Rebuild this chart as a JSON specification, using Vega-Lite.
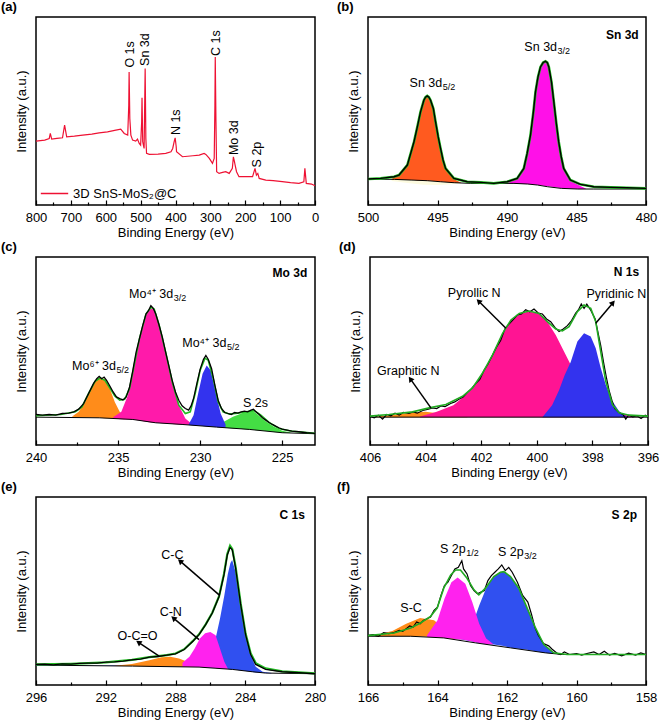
{
"$schema": "https://vega.github.io/schema/vega-lite/v6.json",
"padding": {"left": 0, "top": 0, "right": 0, "bottom": 0},
"background": "white",
"config": {
 "view": {"stroke": "black", "strokeWidth": 1.5},
 "font": "Liberation Sans",
 "axis": {"labelFont": "Liberation Sans", "titleFont": "Liberation Sans", "labelFontSize": 13, "titleFontSize": 13, "titleFontWeight": "normal", "labelColor": "black", "titleColor": "black", "domain": false, "grid": false, "tickColor": "black", "tickWidth": 1.2},
 "axisX": {"labelPadding": 11, "titlePadding": 0, "labelOverlap": false, "labelFlush": false},
 "axisY": {"labels": false, "ticks": false, "titlePadding": 8},
 "title": {"font": "Liberation Sans", "fontSize": 13, "fontWeight": "bold", "anchor": "start", "frame": "group", "offset": 3, "color": "black"},
 "text": {"font": "Liberation Sans", "fontSize": 12.5, "color": "black", "baseline": "alphabetic"}
},
"spacing": 0,
"resolve": {"legend": {"color": "independent"}, "scale": {"color": "independent"}},
"vconcat": [
{"spacing": 16, "resolve": {"legend": {"color": "independent"}, "scale": {"color": "independent"}}, "hconcat": [
{
 "width": 279, "height": 188,
 "title": {"text": "(a)", "dx": -35},
 "data": {"values": [
  {"s":"r","x":800,"y":192},{"s":"r","x":775,"y":195},{"s":"r","x":762,"y":200},{"s":"r","x":759,"y":215},{"s":"r","x":755,"y":198},{"s":"r","x":740,"y":200},{"s":"r","x":724,"y":202},{"s":"r","x":718,"y":240},{"s":"r","x":712,"y":205},{"s":"r","x":690,"y":207},{"s":"r","x":666,"y":210},{"s":"r","x":640,"y":213},{"s":"r","x":619,"y":217},{"s":"r","x":595,"y":220},{"s":"r","x":571,"y":225},{"s":"r","x":557,"y":228},{"s":"r","x":547,"y":215},{"s":"r","x":537,"y":210},{"s":"r","x":534,"y":300},{"s":"r","x":533,"y":400},{"s":"r","x":531,"y":260},{"s":"r","x":528,"y":210},{"s":"r","x":523,"y":195},{"s":"r","x":514,"y":192},{"s":"r","x":509,"y":198},{"s":"r","x":504,"y":185},{"s":"r","x":500,"y":180},{"s":"r","x":497,"y":250},{"s":"r","x":496,"y":322},{"s":"r","x":494,"y":190},{"s":"r","x":492,"y":180},{"s":"r","x":490,"y":170},{"s":"r","x":488,"y":330},{"s":"r","x":487,"y":410},{"s":"r","x":485,"y":200},{"s":"r","x":483,"y":155},{"s":"r","x":475,"y":152},{"s":"r","x":450,"y":153},{"s":"r","x":428,"y":155},{"s":"r","x":413,"y":160},{"s":"r","x":408,"y":170},{"s":"r","x":404,"y":190},{"s":"r","x":401,"y":202},{"s":"r","x":398,"y":175},{"s":"r","x":397,"y":160},{"s":"r","x":380,"y":145},{"s":"r","x":350,"y":148},{"s":"r","x":332,"y":150},{"s":"r","x":318,"y":155},{"s":"r","x":313,"y":152},{"s":"r","x":303,"y":140},{"s":"r","x":294,"y":125},{"s":"r","x":289,"y":140},{"s":"r","x":287,"y":300},{"s":"r","x":286,"y":445},{"s":"r","x":284,"y":250},{"s":"r","x":282,"y":100},{"s":"r","x":275,"y":95},{"s":"r","x":265,"y":98},{"s":"r","x":256,"y":100},{"s":"r","x":246,"y":95},{"s":"r","x":237,"y":110},{"s":"r","x":234,"y":145},{"s":"r","x":231,"y":130},{"s":"r","x":229,"y":120},{"s":"r","x":225,"y":100},{"s":"r","x":218,"y":85},{"s":"r","x":200,"y":85},{"s":"r","x":179,"y":85},{"s":"r","x":172,"y":110},{"s":"r","x":168,"y":90},{"s":"r","x":164,"y":95},{"s":"r","x":160,"y":80},{"s":"r","x":141,"y":75},{"s":"r","x":120,"y":73},{"s":"r","x":94,"y":70},{"s":"r","x":70,"y":67},{"s":"r","x":46,"y":65},{"s":"r","x":32,"y":70},{"s":"r","x":29,"y":110},{"s":"r","x":25,"y":65},{"s":"r","x":10,"y":63},{"s":"r","x":0,"y":58},
  {"s":"rt","x":531,"y":413,"t":"O 1s"},{"s":"rt","x":488,"y":418,"t":"Sn 3d"},{"s":"rt","x":399,"y":210,"t":"N 1s"},{"s":"rt","x":283,"y":448,"t":"C 1s"},{"s":"rt","x":232,"y":150,"t":"Mo 3d"},{"s":"rt","x":167,"y":113,"t":"S 2p"}
 ]},
 "encoding": {
  "x": {"field": "x", "type": "quantitative", "scale": {"domain": [800, 0], "nice": false, "zero": false}, "axis": {"title": "Binding Energy (eV)", "values": [0,50,100,150,200,250,300,350,400,450,500,550,600,650,700,750,800], "labelExpr": "datum.value % 100 == 0 ? datum.label : ''", "tickSize": {"condition": {"test": "datum.value % 100 == 0", "value": -5}, "value": -3}}},
  "y": {"field": "y", "type": "quantitative", "scale": {"domain": [0, 565], "nice": false, "zero": false}, "axis": {"title": "Intensity (a.u.)"}}
 },
 "layer": [
  {"transform": [{"filter": "datum.s == 'r'"}], "mark": {"type": "line", "strokeWidth": 1.2}, "encoding": {"color": {"datum": "3D SnS-MoS₂@C", "scale": {"range": ["#ee1133"]}, "legend": {"orient": "bottom-left", "title": null, "symbolType": "stroke", "symbolStrokeWidth": 1.5, "symbolSize": 750, "labelFontSize": 13, "labelFont": "Liberation Sans", "labelColor": "black", "offset": 4, "padding": 0}}}},
  {"transform": [{"filter": "datum.s == 'rt'"}], "mark": {"type": "text", "angle": 270, "align": "left", "baseline": "middle"}, "encoding": {"text": {"field": "t"}}}
 ]
},
{
 "width": 278, "height": 188,
 "title": {"text": "(b)", "dx": -31},
 "data": {"values": [
  {"s":"r","x":500,"y":78},{"s":"r","x":499.09,"y":80},{"s":"r","x":498.13,"y":85},{"s":"r","x":497.77,"y":90},{"s":"r","x":497.17,"y":120},{"s":"r","x":496.69,"y":190},{"s":"r","x":496.45,"y":235},{"s":"r","x":496.22,"y":280},{"s":"r","x":495.98,"y":315},{"s":"r","x":495.86,"y":324},{"s":"r","x":495.74,"y":328},{"s":"r","x":495.62,"y":324},{"s":"r","x":495.5,"y":315},{"s":"r","x":495.3,"y":290},{"s":"r","x":495.14,"y":250},{"s":"r","x":494.95,"y":205},{"s":"r","x":494.78,"y":170},{"s":"r","x":494.6,"y":135},{"s":"r","x":494.42,"y":110},{"s":"r","x":493.82,"y":80},{"s":"r","x":492.86,"y":70},{"s":"r","x":491.9,"y":68},{"s":"r","x":490.95,"y":65},{"s":"r","x":489.99,"y":70},{"s":"r","x":489.27,"y":80},{"s":"r","x":488.79,"y":110},{"s":"r","x":488.55,"y":155},{"s":"r","x":488.31,"y":210},{"s":"r","x":488.1,"y":280},{"s":"r","x":487.95,"y":340},{"s":"r","x":487.77,"y":385},{"s":"r","x":487.59,"y":415},{"s":"r","x":487.4,"y":428},{"s":"r","x":487.23,"y":432},{"s":"r","x":487.1,"y":428},{"s":"r","x":486.99,"y":415},{"s":"r","x":486.8,"y":370},{"s":"r","x":486.63,"y":310},{"s":"r","x":486.45,"y":245},{"s":"r","x":486.28,"y":190},{"s":"r","x":486.1,"y":145},{"s":"r","x":485.92,"y":110},{"s":"r","x":485.44,"y":75},{"s":"r","x":484.72,"y":62},{"s":"r","x":483.76,"y":55},{"s":"r","x":482.56,"y":53},{"s":"r","x":481.37,"y":52},{"s":"r","x":480,"y":50},
  {"s":"b","x":500,"y":78},{"s":"b","x":498.1,"y":77},{"s":"b","x":496.9,"y":75},{"s":"b","x":495.7,"y":73},{"s":"b","x":494.8,"y":70},{"s":"b","x":493.8,"y":67},{"s":"b","x":492.6,"y":65},{"s":"b","x":490.9,"y":65},{"s":"b","x":489.5,"y":65},{"s":"b","x":488.5,"y":63},{"s":"b","x":487.8,"y":60},{"s":"b","x":487.1,"y":55},{"s":"b","x":486.1,"y":50},{"s":"b","x":484.9,"y":48},{"s":"b","x":483.8,"y":48},{"s":"b","x":480,"y":48},
  {"s":"yl","x":498.3,"y":77,"y2":72},{"s":"yl","x":497,"y":75,"y2":65},{"s":"yl","x":496,"y":74,"y2":61},{"s":"yl","x":495,"y":72,"y2":60},{"s":"yl","x":494,"y":68,"y2":62},{"s":"yl","x":493.3,"y":66,"y2":65},
  {"s":"p1","x":498.3,"y":79,"y2":77},{"s":"p1","x":497.77,"y":89,"y2":76},{"s":"p1","x":497.17,"y":119,"y2":75},{"s":"p1","x":496.69,"y":189,"y2":75},{"s":"p1","x":496.45,"y":234,"y2":74},{"s":"p1","x":496.22,"y":279,"y2":74},{"s":"p1","x":495.98,"y":314,"y2":74},{"s":"p1","x":495.86,"y":323,"y2":73},{"s":"p1","x":495.74,"y":327,"y2":73},{"s":"p1","x":495.62,"y":323,"y2":73},{"s":"p1","x":495.5,"y":314,"y2":73},{"s":"p1","x":495.3,"y":289,"y2":72},{"s":"p1","x":495.14,"y":249,"y2":72},{"s":"p1","x":494.95,"y":204,"y2":71},{"s":"p1","x":494.78,"y":169,"y2":70},{"s":"p1","x":494.6,"y":134,"y2":70},{"s":"p1","x":494.42,"y":109,"y2":69},{"s":"p1","x":493.82,"y":78,"y2":67},{"s":"p1","x":493.3,"y":67,"y2":66},
  {"s":"p2","x":490.5,"y":66,"y2":65},{"s":"p2","x":489.99,"y":69,"y2":65},{"s":"p2","x":489.27,"y":79,"y2":64},{"s":"p2","x":488.79,"y":109,"y2":63},{"s":"p2","x":488.55,"y":154,"y2":63},{"s":"p2","x":488.31,"y":209,"y2":62},{"s":"p2","x":488.1,"y":279,"y2":61},{"s":"p2","x":487.95,"y":339,"y2":61},{"s":"p2","x":487.77,"y":384,"y2":60},{"s":"p2","x":487.59,"y":414,"y2":59},{"s":"p2","x":487.4,"y":427,"y2":58},{"s":"p2","x":487.23,"y":431,"y2":57},{"s":"p2","x":487.1,"y":427,"y2":56},{"s":"p2","x":486.99,"y":414,"y2":56},{"s":"p2","x":486.8,"y":369,"y2":55},{"s":"p2","x":486.63,"y":309,"y2":54},{"s":"p2","x":486.45,"y":244,"y2":53},{"s":"p2","x":486.28,"y":189,"y2":52},{"s":"p2","x":486.1,"y":144,"y2":51},{"s":"p2","x":485.92,"y":109,"y2":51},{"s":"p2","x":485.44,"y":74,"y2":49},{"s":"p2","x":484.72,"y":57,"y2":48},{"s":"p2","x":484.3,"y":49,"y2":48},
  {"s":"tr","x":494.66,"y":355,"t":"Sn 3d"},{"s":"sub","x":494.66,"y":355,"t":"5/2"},{"s":"tr","x":486.4,"y":462,"t":"Sn 3d"},{"s":"sub","x":486.4,"y":462,"t":"3/2"},{"s":"hd","x":480.53,"y":498,"t":"Sn 3d"}
 ]},
 "encoding": {
  "x": {"field": "x", "type": "quantitative", "scale": {"domain": [500, 480], "nice": false, "zero": false}, "axis": {"title": "Binding Energy (eV)", "values": [480,482.5,485,487.5,490,492.5,495,497.5,500], "labelExpr": "datum.value % 5 == 0 ? datum.label : ''", "tickSize": {"condition": {"test": "datum.value % 5 == 0", "value": -5}, "value": -3}}},
  "y": {"field": "y", "type": "quantitative", "scale": {"domain": [0, 565], "nice": false, "zero": false}, "axis": {"title": "Intensity (a.u.)"}}
 },
 "layer": [
  {"transform": [{"filter": "datum.s == 'yl'"}], "mark": {"type": "area", "color": "#fdfbe0"}, "encoding": {"y2": {"field": "y2"}}},
  {"transform": [{"filter": "datum.s == 'p1'"}], "mark": {"type": "area", "color": "#ff5a1f"}, "encoding": {"y2": {"field": "y2"}}},
  {"transform": [{"filter": "datum.s == 'p2'"}], "mark": {"type": "area", "color": "#ff10e8"}, "encoding": {"y2": {"field": "y2"}}},
  {"transform": [{"filter": "datum.s == 'b'"}], "mark": {"type": "line", "color": "black", "strokeWidth": 1}},
  {"transform": [{"filter": "datum.s == 'r'"}], "mark": {"type": "line", "color": "#22bb22", "strokeWidth": 2.6}},
  {"transform": [{"filter": "datum.s == 'r'"}], "mark": {"type": "line", "color": "black", "strokeWidth": 1.4}},
  {"transform": [{"filter": "datum.s == 'tr'"}], "mark": {"type": "text", "align": "right"}, "encoding": {"text": {"field": "t"}}},
  {"transform": [{"filter": "datum.s == 'sub'"}], "mark": {"type": "text", "align": "left", "fontSize": 9, "dx": 0.5, "dy": 3}, "encoding": {"text": {"field": "t"}}},
  {"transform": [{"filter": "datum.s == 'hd'"}], "mark": {"type": "text", "align": "right", "fontWeight": "bold", "fontSize": 12}, "encoding": {"text": {"field": "t"}}}
 ]
}
]},
{"spacing": 19, "hconcat": [
{
 "width": 279, "height": 188,
 "title": {"text": "(c)", "dx": -35},
 "data": {"values": [
  {"s":"r","x":240,"y":92},{"s":"r","x":239.6,"y":90},{"s":"r","x":239.2,"y":92},{"s":"r","x":238.8,"y":90},{"s":"r","x":238.4,"y":95},{"s":"r","x":238,"y":96},{"s":"r","x":237.7,"y":100},{"s":"r","x":237.4,"y":108},{"s":"r","x":237.1,"y":125},{"s":"r","x":236.8,"y":155},{"s":"r","x":236.5,"y":185},{"s":"r","x":236.3,"y":200},{"s":"r","x":236.15,"y":207},{"s":"r","x":236,"y":200},{"s":"r","x":235.85,"y":205},{"s":"r","x":235.7,"y":195},{"s":"r","x":235.5,"y":178},{"s":"r","x":235.3,"y":160},{"s":"r","x":235.1,"y":145},{"s":"r","x":234.9,"y":140},{"s":"r","x":234.7,"y":136},{"s":"r","x":234.5,"y":145},{"s":"r","x":234.3,"y":175},{"s":"r","x":234.1,"y":225},{"s":"r","x":233.9,"y":280},{"s":"r","x":233.7,"y":320},{"s":"r","x":233.5,"y":360},{"s":"r","x":233.3,"y":395},{"s":"r","x":233.15,"y":405},{"s":"r","x":233,"y":420},{"s":"r","x":232.85,"y":412},{"s":"r","x":232.7,"y":395},{"s":"r","x":232.5,"y":362},{"s":"r","x":232.3,"y":325},{"s":"r","x":232.1,"y":280},{"s":"r","x":231.9,"y":238},{"s":"r","x":231.7,"y":195},{"s":"r","x":231.5,"y":160},{"s":"r","x":231.3,"y":135},{"s":"r","x":231.1,"y":118},{"s":"r","x":230.9,"y":110},{"s":"r","x":230.7,"y":105},{"s":"r","x":230.55,"y":118},{"s":"r","x":230.4,"y":140},{"s":"r","x":230.2,"y":185},{"s":"r","x":230,"y":228},{"s":"r","x":229.8,"y":258},{"s":"r","x":229.65,"y":270},{"s":"r","x":229.5,"y":258},{"s":"r","x":229.3,"y":230},{"s":"r","x":229.1,"y":180},{"s":"r","x":228.9,"y":135},{"s":"r","x":228.7,"y":110},{"s":"r","x":228.5,"y":98},{"s":"r","x":228.3,"y":95},{"s":"r","x":228.1,"y":92},{"s":"r","x":227.9,"y":98},{"s":"r","x":227.7,"y":96},{"s":"r","x":227.5,"y":100},{"s":"r","x":227.3,"y":102},{"s":"r","x":227.1,"y":100},{"s":"r","x":226.9,"y":105},{"s":"r","x":226.75,"y":108},{"s":"r","x":226.6,"y":100},{"s":"r","x":226.4,"y":92},{"s":"r","x":226.2,"y":82},{"s":"r","x":226,"y":75},{"s":"r","x":225.8,"y":68},{"s":"r","x":225.6,"y":62},{"s":"r","x":225.4,"y":57},{"s":"r","x":225.2,"y":52},{"s":"r","x":225,"y":48},{"s":"r","x":224.7,"y":45},{"s":"r","x":224.4,"y":42},{"s":"r","x":224,"y":40},{"s":"r","x":223.5,"y":37},{"s":"r","x":223,"y":35},
  {"s":"f","x":240,"y":88},{"s":"f","x":238.5,"y":92},{"s":"f","x":237.6,"y":100},{"s":"f","x":237.2,"y":115},{"s":"f","x":236.8,"y":155},{"s":"f","x":236.4,"y":192},{"s":"f","x":236.1,"y":202},{"s":"f","x":235.8,"y":195},{"s":"f","x":235.5,"y":172},{"s":"f","x":235.2,"y":148},{"s":"f","x":234.9,"y":135},{"s":"f","x":234.6,"y":138},{"s":"f","x":234.3,"y":170},{"s":"f","x":234,"y":245},{"s":"f","x":233.7,"y":320},{"s":"f","x":233.3,"y":395},{"s":"f","x":233,"y":415},{"s":"f","x":232.8,"y":410},{"s":"f","x":232.5,"y":362},{"s":"f","x":232.1,"y":280},{"s":"f","x":231.7,"y":190},{"s":"f","x":231.3,"y":120},{"s":"f","x":230.9,"y":95},{"s":"f","x":230.6,"y":100},{"s":"f","x":230.3,"y":155},{"s":"f","x":230,"y":225},{"s":"f","x":229.7,"y":262},{"s":"f","x":229.5,"y":255},{"s":"f","x":229.2,"y":200},{"s":"f","x":228.9,"y":130},{"s":"f","x":228.6,"y":100},{"s":"f","x":228.2,"y":93},{"s":"f","x":227.6,"y":97},{"s":"f","x":227,"y":102},{"s":"f","x":226.7,"y":104},{"s":"f","x":226.3,"y":90},{"s":"f","x":225.8,"y":68},{"s":"f","x":225.2,"y":50},{"s":"f","x":224.5,"y":42},{"s":"f","x":223,"y":35},
  {"s":"b","x":240,"y":84},{"s":"b","x":236.15,"y":82},{"s":"b","x":234.1,"y":77},{"s":"b","x":232.7,"y":67},{"s":"b","x":231.1,"y":62},{"s":"b","x":229,"y":54},{"s":"b","x":227,"y":47},{"s":"b","x":225,"y":37},{"s":"b","x":223,"y":34},
  {"s":"p1","x":237.8,"y":86,"y2":85},{"s":"p1","x":237.4,"y":100,"y2":84},{"s":"p1","x":237,"y":130,"y2":83},{"s":"p1","x":236.6,"y":175,"y2":83},{"s":"p1","x":236.3,"y":200,"y2":82},{"s":"p1","x":236.1,"y":204,"y2":82},{"s":"p1","x":235.8,"y":198,"y2":81},{"s":"p1","x":235.5,"y":170,"y2":81},{"s":"p1","x":235.2,"y":130,"y2":80},{"s":"p1","x":234.9,"y":100,"y2":79},{"s":"p1","x":234.6,"y":82,"y2":78},
  {"s":"p2","x":235.3,"y":84,"y2":80},{"s":"p2","x":234.8,"y":100,"y2":78},{"s":"p2","x":234.4,"y":150,"y2":77},{"s":"p2","x":234,"y":245,"y2":76},{"s":"p2","x":233.7,"y":318,"y2":74},{"s":"p2","x":233.3,"y":392,"y2":70},{"s":"p2","x":233,"y":412,"y2":68},{"s":"p2","x":232.8,"y":408,"y2":67},{"s":"p2","x":232.5,"y":360,"y2":66},{"s":"p2","x":232.1,"y":280,"y2":65},{"s":"p2","x":231.7,"y":190,"y2":63},{"s":"p2","x":231.3,"y":120,"y2":62},{"s":"p2","x":230.9,"y":80,"y2":61},{"s":"p2","x":230.5,"y":63,"y2":60},
  {"s":"p3","x":230.7,"y":62,"y2":60},{"s":"p3","x":230.4,"y":90,"y2":59},{"s":"p3","x":230.1,"y":160,"y2":58},{"s":"p3","x":229.85,"y":215,"y2":57},{"s":"p3","x":229.6,"y":240,"y2":56},{"s":"p3","x":229.35,"y":225,"y2":55},{"s":"p3","x":229.05,"y":160,"y2":54},{"s":"p3","x":228.75,"y":95,"y2":53},{"s":"p3","x":228.45,"y":62,"y2":52},
  {"s":"p4","x":229.5,"y":57,"y2":55},{"s":"p4","x":229,"y":62,"y2":54},{"s":"p4","x":228.5,"y":72,"y2":52},{"s":"p4","x":228,"y":85,"y2":50},{"s":"p4","x":227.6,"y":93,"y2":49},{"s":"p4","x":227.2,"y":100,"y2":47},{"s":"p4","x":226.8,"y":104,"y2":46},{"s":"p4","x":226.4,"y":88,"y2":44},{"s":"p4","x":226,"y":72,"y2":42},{"s":"p4","x":225.5,"y":55,"y2":39},{"s":"p4","x":225,"y":43,"y2":37},{"s":"p4","x":224.5,"y":38,"y2":36},
  {"s":"tr","x":235.13,"y":227,"t":"Mo⁶⁺ 3d"},{"s":"sub","x":235.13,"y":227,"t":"5/2"},{"s":"tr","x":231.64,"y":442,"t":"Mo⁴⁺ 3d"},{"s":"sub","x":231.64,"y":442,"t":"3/2"},{"s":"tr","x":228.4,"y":297,"t":"Mo⁴⁺ 3d"},{"s":"sub","x":228.4,"y":297,"t":"5/2"},{"s":"tc","x":226.63,"y":115,"t":"S 2s"},{"s":"hd","x":223.47,"y":507,"t":"Mo 3d"}
 ]},
 "encoding": {
  "x": {"field": "x", "type": "quantitative", "scale": {"domain": [240, 223], "nice": false, "zero": false}, "axis": {"title": "Binding Energy (eV)", "values": [225,227.5,230,232.5,235,237.5,240], "labelExpr": "datum.value % 5 == 0 ? datum.label : ''", "tickSize": {"condition": {"test": "datum.value % 5 == 0", "value": -5}, "value": -3}}},
  "y": {"field": "y", "type": "quantitative", "scale": {"domain": [0, 567], "nice": false, "zero": false}, "axis": {"title": "Intensity (a.u.)"}}
 },
 "layer": [
  {"transform": [{"filter": "datum.s == 'p4'"}], "mark": {"type": "area", "color": "#44dd44"}, "encoding": {"y2": {"field": "y2"}}},
  {"transform": [{"filter": "datum.s == 'p1'"}], "mark": {"type": "area", "color": "#ff8c1a"}, "encoding": {"y2": {"field": "y2"}}},
  {"transform": [{"filter": "datum.s == 'p2'"}], "mark": {"type": "area", "color": "#ff1aaa"}, "encoding": {"y2": {"field": "y2"}}},
  {"transform": [{"filter": "datum.s == 'p3'"}], "mark": {"type": "area", "color": "#3333ee"}, "encoding": {"y2": {"field": "y2"}}},
  {"transform": [{"filter": "datum.s == 'b'"}], "mark": {"type": "line", "color": "black", "strokeWidth": 1}},
  {"transform": [{"filter": "datum.s == 'f'"}], "mark": {"type": "line", "color": "#22bb22", "strokeWidth": 1.6}},
  {"transform": [{"filter": "datum.s == 'r'"}], "mark": {"type": "line", "color": "black", "strokeWidth": 1.3}},
  {"transform": [{"filter": "datum.s == 'tr'"}], "mark": {"type": "text", "align": "right"}, "encoding": {"text": {"field": "t"}}},
  {"transform": [{"filter": "datum.s == 'tc'"}], "mark": {"type": "text", "align": "center"}, "encoding": {"text": {"field": "t"}}},
  {"transform": [{"filter": "datum.s == 'sub'"}], "mark": {"type": "text", "align": "left", "fontSize": 9, "dx": 0.5, "dy": 3}, "encoding": {"text": {"field": "t"}}},
  {"transform": [{"filter": "datum.s == 'hd'"}], "mark": {"type": "text", "align": "right", "fontWeight": "bold", "fontSize": 12}, "encoding": {"text": {"field": "t"}}}
 ]
},
{
 "width": 278, "height": 188,
 "title": {"text": "(d)", "dx": -31},
 "data": {"values": [
  {"s":"r","x":406,"y":87},{"s":"r","x":405.85,"y":82},{"s":"r","x":405.7,"y":90},{"s":"r","x":405.55,"y":78},{"s":"r","x":405.4,"y":92},{"s":"r","x":405.25,"y":88},{"s":"r","x":405.1,"y":96},{"s":"r","x":404.95,"y":90},{"s":"r","x":404.8,"y":98},{"s":"r","x":404.6,"y":95},{"s":"r","x":404.45,"y":100},{"s":"r","x":404.3,"y":96},{"s":"r","x":404.1,"y":104},{"s":"r","x":403.9,"y":108},{"s":"r","x":403.75,"y":112},{"s":"r","x":403.6,"y":110},{"s":"r","x":403.45,"y":118},{"s":"r","x":403.3,"y":116},{"s":"r","x":403.1,"y":125},{"s":"r","x":402.95,"y":130},{"s":"r","x":402.8,"y":138},{"s":"r","x":402.65,"y":145},{"s":"r","x":402.5,"y":158},{"s":"r","x":402.35,"y":170},{"s":"r","x":402.2,"y":185},{"s":"r","x":402.05,"y":198},{"s":"r","x":401.9,"y":225},{"s":"r","x":401.75,"y":245},{"s":"r","x":401.6,"y":270},{"s":"r","x":401.45,"y":295},{"s":"r","x":401.3,"y":315},{"s":"r","x":401.15,"y":350},{"s":"r","x":401,"y":365},{"s":"r","x":400.85,"y":378},{"s":"r","x":400.7,"y":392},{"s":"r","x":400.55,"y":395},{"s":"r","x":400.4,"y":408},{"s":"r","x":400.25,"y":402},{"s":"r","x":400.1,"y":410},{"s":"r","x":399.95,"y":398},{"s":"r","x":399.8,"y":395},{"s":"r","x":399.65,"y":380},{"s":"r","x":399.5,"y":372},{"s":"r","x":399.35,"y":355},{"s":"r","x":399.2,"y":342},{"s":"r","x":399.05,"y":350},{"s":"r","x":398.9,"y":360},{"s":"r","x":398.75,"y":375},{"s":"r","x":398.6,"y":398},{"s":"r","x":398.5,"y":408},{"s":"r","x":398.4,"y":425},{"s":"r","x":398.3,"y":412},{"s":"r","x":398.2,"y":425},{"s":"r","x":398.05,"y":405},{"s":"r","x":397.9,"y":380},{"s":"r","x":397.8,"y":340},{"s":"r","x":397.7,"y":300},{"s":"r","x":397.6,"y":250},{"s":"r","x":397.5,"y":205},{"s":"r","x":397.4,"y":165},{"s":"r","x":397.3,"y":135},{"s":"r","x":397.2,"y":110},{"s":"r","x":397.05,"y":98},{"s":"r","x":396.9,"y":92},{"s":"r","x":396.8,"y":78},{"s":"r","x":396.7,"y":90},{"s":"r","x":396.55,"y":85},{"s":"r","x":396.4,"y":88},{"s":"r","x":396.25,"y":80},{"s":"r","x":396.1,"y":90},{"s":"r","x":396,"y":86},
  {"s":"f","x":406,"y":87},{"s":"f","x":405.31,"y":92},{"s":"f","x":404.47,"y":100},{"s":"f","x":403.87,"y":112},{"s":"f","x":403.27,"y":122},{"s":"f","x":402.67,"y":147},{"s":"f","x":402.31,"y":172},{"s":"f","x":401.95,"y":217},{"s":"f","x":401.59,"y":272},{"s":"f","x":401.23,"y":337},{"s":"f","x":400.93,"y":377},{"s":"f","x":400.63,"y":397},{"s":"f","x":400.28,"y":404},{"s":"f","x":399.92,"y":397},{"s":"f","x":399.62,"y":372},{"s":"f","x":399.32,"y":350},{"s":"f","x":399.08,"y":344},{"s":"f","x":398.84,"y":357},{"s":"f","x":398.54,"y":402},{"s":"f","x":398.3,"y":422},{"s":"f","x":398.06,"y":412},{"s":"f","x":397.88,"y":372},{"s":"f","x":397.7,"y":282},{"s":"f","x":397.52,"y":192},{"s":"f","x":397.28,"y":122},{"s":"f","x":397.04,"y":97},{"s":"f","x":396.68,"y":90},{"s":"f","x":396,"y":87},
  {"s":"b","x":406,"y":84},{"s":"b","x":396,"y":84},
  {"s":"p1","x":405.8,"y":86,"y2":84},{"s":"p1","x":405.3,"y":89,"y2":84},{"s":"p1","x":405,"y":92,"y2":84},{"s":"p1","x":404.5,"y":97,"y2":84},{"s":"p1","x":404,"y":100,"y2":84},{"s":"p1","x":403.5,"y":95,"y2":84},{"s":"p1","x":403,"y":88,"y2":84},{"s":"p1","x":402.5,"y":85,"y2":84},
  {"s":"p2","x":404.2,"y":86,"y2":84},{"s":"p2","x":403.6,"y":100,"y2":84},{"s":"p2","x":403,"y":120,"y2":84},{"s":"p2","x":402.6,"y":148,"y2":84},{"s":"p2","x":402.3,"y":172,"y2":84},{"s":"p2","x":401.95,"y":215,"y2":84},{"s":"p2","x":401.6,"y":270,"y2":84},{"s":"p2","x":401.23,"y":335,"y2":84},{"s":"p2","x":400.93,"y":375,"y2":84},{"s":"p2","x":400.63,"y":396,"y2":84},{"s":"p2","x":400.28,"y":403,"y2":84},{"s":"p2","x":399.92,"y":396,"y2":84},{"s":"p2","x":399.62,"y":372,"y2":84},{"s":"p2","x":399.32,"y":332,"y2":84},{"s":"p2","x":399.08,"y":292,"y2":84},{"s":"p2","x":398.78,"y":242,"y2":84},{"s":"p2","x":398.4,"y":195,"y2":84},{"s":"p2","x":397.88,"y":142,"y2":84},{"s":"p2","x":397.28,"y":102,"y2":84},{"s":"p2","x":396.7,"y":88,"y2":84},{"s":"p2","x":396.2,"y":84,"y2":84},
  {"s":"p3","x":399.8,"y":84,"y2":84},{"s":"p3","x":399.45,"y":120,"y2":84},{"s":"p3","x":399.2,"y":165,"y2":84},{"s":"p3","x":399,"y":210,"y2":84},{"s":"p3","x":398.78,"y":250,"y2":84},{"s":"p3","x":398.54,"y":312,"y2":84},{"s":"p3","x":398.3,"y":337,"y2":84},{"s":"p3","x":398.06,"y":327,"y2":84},{"s":"p3","x":397.88,"y":292,"y2":84},{"s":"p3","x":397.7,"y":232,"y2":84},{"s":"p3","x":397.52,"y":182,"y2":84},{"s":"p3","x":397.28,"y":132,"y2":84},{"s":"p3","x":397.04,"y":102,"y2":84},{"s":"p3","x":396.8,"y":87,"y2":84},{"s":"p3","x":396.6,"y":84,"y2":84},
  {"s":"ar","x":401.11,"y":352,"x2":402.07,"y2":432,"a":315},{"s":"ar","x":397.88,"y":367,"x2":397.28,"y2":427,"a":40},{"s":"ar","x":403.81,"y":112,"x2":404.53,"y2":197,"a":325},
  {"s":"tc","x":402.25,"y":447,"t":"Pyrollic N"},{"s":"tc","x":397.14,"y":444,"t":"Pyridinic N"},{"s":"tc","x":404.62,"y":210,"t":"Graphitic N"},{"s":"hd","x":396.32,"y":509,"t":"N 1s"}
 ]},
 "encoding": {
  "x": {"field": "x", "type": "quantitative", "scale": {"domain": [406, 396], "nice": false, "zero": false}, "axis": {"title": "Binding Energy (eV)", "values": [396,397,398,399,400,401,402,403,404,405,406], "labelExpr": "datum.value % 2 == 0 ? datum.label : ''", "tickSize": {"condition": {"test": "datum.value % 2 == 0", "value": -5}, "value": -3}}},
  "y": {"field": "y", "type": "quantitative", "scale": {"domain": [0, 567], "nice": false, "zero": false}, "axis": {"title": "Intensity (a.u.)"}}
 },
 "layer": [
  {"transform": [{"filter": "datum.s == 'p1'"}], "mark": {"type": "area", "color": "#ff8c1a"}, "encoding": {"y2": {"field": "y2"}}},
  {"transform": [{"filter": "datum.s == 'p2'"}], "mark": {"type": "area", "color": "#ff1493"}, "encoding": {"y2": {"field": "y2"}}},
  {"transform": [{"filter": "datum.s == 'p3'"}], "mark": {"type": "area", "color": "#3333ee"}, "encoding": {"y2": {"field": "y2"}}},
  {"transform": [{"filter": "datum.s == 'b'"}], "mark": {"type": "line", "color": "black", "strokeWidth": 1}},
  {"transform": [{"filter": "datum.s == 'r'"}], "mark": {"type": "line", "color": "black", "strokeWidth": 1.2}},
  {"transform": [{"filter": "datum.s == 'f'"}], "mark": {"type": "line", "color": "#22aa22", "strokeWidth": 1.6}},
  {"transform": [{"filter": "datum.s == 'ar'"}], "mark": {"type": "rule", "color": "black", "strokeWidth": 1.5}, "encoding": {"x2": {"field": "x2"}, "y2": {"field": "y2"}}},
  {"transform": [{"filter": "datum.s == 'ar'"}], "mark": {"type": "point", "shape": "triangle", "filled": true, "color": "black", "opacity": 1, "size": 40}, "encoding": {"x": {"field": "x2", "type": "quantitative"}, "y": {"field": "y2", "type": "quantitative"}, "angle": {"field": "a", "type": "quantitative", "scale": null}}},
  {"transform": [{"filter": "datum.s == 'tc'"}], "mark": {"type": "text", "align": "center"}, "encoding": {"text": {"field": "t"}}},
  {"transform": [{"filter": "datum.s == 'hd'"}], "mark": {"type": "text", "align": "right", "fontWeight": "bold", "fontSize": 12}, "encoding": {"text": {"field": "t"}}}
 ]
}
]},
{"spacing": 9, "hconcat": [
{
 "width": 279, "height": 188,
 "title": {"text": "(e)", "dx": -35},
 "data": {"values": [
  {"s":"r","x":296,"y":62},{"s":"r","x":295.5,"y":63},{"s":"r","x":295,"y":61},{"s":"r","x":294.5,"y":64},{"s":"r","x":294,"y":63},{"s":"r","x":293.5,"y":65},{"s":"r","x":293,"y":66},{"s":"r","x":292.5,"y":66},{"s":"r","x":292,"y":69},{"s":"r","x":291.5,"y":70},{"s":"r","x":291,"y":72},{"s":"r","x":290.5,"y":76},{"s":"r","x":290,"y":78},{"s":"r","x":289.5,"y":84},{"s":"r","x":289,"y":86},{"s":"r","x":288.5,"y":90},{"s":"r","x":288,"y":94},{"s":"r","x":287.5,"y":107},{"s":"r","x":287,"y":132},{"s":"r","x":286.65,"y":152},{"s":"r","x":286.27,"y":182},{"s":"r","x":285.89,"y":217},{"s":"r","x":285.5,"y":267},{"s":"r","x":285.22,"y":332},{"s":"r","x":285.03,"y":392},{"s":"r","x":284.87,"y":415},{"s":"r","x":284.74,"y":407},{"s":"r","x":284.55,"y":352},{"s":"r","x":284.26,"y":242},{"s":"r","x":283.98,"y":152},{"s":"r","x":283.69,"y":92},{"s":"r","x":283.4,"y":62},{"s":"r","x":282.83,"y":47},{"s":"r","x":281.88,"y":40},{"s":"r","x":280.92,"y":37},{"s":"r","x":280,"y":34},
  {"s":"f","x":296,"y":62},{"s":"f","x":294,"y":64},{"s":"f","x":292,"y":68},{"s":"f","x":290.5,"y":76},{"s":"f","x":289.5,"y":84},{"s":"f","x":288.5,"y":90},{"s":"f","x":288,"y":95},{"s":"f","x":287.5,"y":108},{"s":"f","x":287,"y":133},{"s":"f","x":286.65,"y":153},{"s":"f","x":286.27,"y":183},{"s":"f","x":285.89,"y":218},{"s":"f","x":285.5,"y":268},{"s":"f","x":285.22,"y":335},{"s":"f","x":285.03,"y":395},{"s":"f","x":284.87,"y":420},{"s":"f","x":284.74,"y":410},{"s":"f","x":284.55,"y":355},{"s":"f","x":284.26,"y":245},{"s":"f","x":283.98,"y":155},{"s":"f","x":283.69,"y":96},{"s":"f","x":283.4,"y":66},{"s":"f","x":282.83,"y":50},{"s":"f","x":281.88,"y":41},{"s":"f","x":280.92,"y":38},{"s":"f","x":280,"y":35},
  {"s":"b","x":296,"y":60},{"s":"b","x":290.47,"y":57},{"s":"b","x":286.65,"y":54},{"s":"b","x":284.74,"y":47},{"s":"b","x":283.6,"y":40},{"s":"b","x":282.83,"y":36},{"s":"b","x":280,"y":34},
  {"s":"p3","x":296,"y":60,"y2":59},{"s":"p3","x":292.5,"y":59,"y2":58},{"s":"p3","x":290,"y":60,"y2":57},{"s":"p3","x":288.5,"y":62,"y2":56},{"s":"p3","x":287.5,"y":66,"y2":55},{"s":"p3","x":287,"y":72,"y2":55},{"s":"p3","x":286.5,"y":85,"y2":54},{"s":"p3","x":286,"y":110,"y2":52},{"s":"p3","x":285.7,"y":140,"y2":51},{"s":"p3","x":285.45,"y":200,"y2":50},{"s":"p3","x":285.2,"y":270,"y2":49},{"s":"p3","x":285,"y":335,"y2":48},{"s":"p3","x":284.85,"y":368,"y2":47},{"s":"p3","x":284.75,"y":377,"y2":47},{"s":"p3","x":284.55,"y":340,"y2":46},{"s":"p3","x":284.26,"y":240,"y2":44},{"s":"p3","x":283.98,"y":152,"y2":42},{"s":"p3","x":283.69,"y":90,"y2":40},{"s":"p3","x":283.4,"y":55,"y2":38},{"s":"p3","x":283,"y":40,"y2":37},{"s":"p3","x":282.5,"y":36,"y2":35},
  {"s":"p1","x":291.5,"y":58,"y2":57},{"s":"p1","x":290.5,"y":63,"y2":57},{"s":"p1","x":289.5,"y":75,"y2":56},{"s":"p1","x":288.8,"y":84,"y2":56},{"s":"p1","x":288.3,"y":85,"y2":56},{"s":"p1","x":287.8,"y":80,"y2":55},{"s":"p1","x":287.2,"y":68,"y2":55},{"s":"p1","x":286.6,"y":56,"y2":54},
  {"s":"p2","x":287.6,"y":67,"y2":55},{"s":"p2","x":287.2,"y":85,"y2":55},{"s":"p2","x":286.9,"y":110,"y2":54},{"s":"p2","x":286.6,"y":140,"y2":54},{"s":"p2","x":286.3,"y":156,"y2":53},{"s":"p2","x":286,"y":160,"y2":52},{"s":"p2","x":285.7,"y":150,"y2":51},{"s":"p2","x":285.45,"y":110,"y2":50},{"s":"p2","x":285.2,"y":70,"y2":49},{"s":"p2","x":285,"y":50,"y2":48},
  {"s":"ar","x":285.5,"y":272,"x2":287.7,"y2":372,"a":311},{"s":"ar","x":286.65,"y":137,"x2":288.08,"y2":200,"a":310},{"s":"ar","x":288.94,"y":87,"x2":290.08,"y2":127,"a":304},
  {"s":"tc","x":288.18,"y":381,"t":"C-C"},{"s":"tc","x":288.27,"y":207,"t":"C-N"},{"s":"tc","x":290.18,"y":137,"t":"O-C=O"},{"s":"hd","x":280.58,"y":502,"t":"C 1s"}
 ]},
 "encoding": {
  "x": {"field": "x", "type": "quantitative", "scale": {"domain": [296, 280], "nice": false, "zero": false}, "axis": {"title": "Binding Energy (eV)", "values": [280,282,284,286,288,290,292,294,296], "labelExpr": "datum.value % 4 == 0 ? datum.label : ''", "tickSize": {"condition": {"test": "datum.value % 4 == 0", "value": -5}, "value": -3}}},
  "y": {"field": "y", "type": "quantitative", "scale": {"domain": [0, 567], "nice": false, "zero": false}, "axis": {"title": "Intensity (a.u.)"}}
 },
 "layer": [
  {"transform": [{"filter": "datum.s == 'p3'"}], "mark": {"type": "area", "color": "#3050f0"}, "encoding": {"y2": {"field": "y2"}}},
  {"transform": [{"filter": "datum.s == 'p1'"}], "mark": {"type": "area", "color": "#ff8c1a"}, "encoding": {"y2": {"field": "y2"}}},
  {"transform": [{"filter": "datum.s == 'p2'"}], "mark": {"type": "area", "color": "#ff22ee"}, "encoding": {"y2": {"field": "y2"}}},
  {"transform": [{"filter": "datum.s == 'b'"}], "mark": {"type": "line", "color": "black", "strokeWidth": 1}},
  {"transform": [{"filter": "datum.s == 'f'"}], "mark": {"type": "line", "color": "#22bb22", "strokeWidth": 2.2}},
  {"transform": [{"filter": "datum.s == 'r'"}], "mark": {"type": "line", "color": "black", "strokeWidth": 1.3}},
  {"transform": [{"filter": "datum.s == 'ar'"}], "mark": {"type": "rule", "color": "black", "strokeWidth": 1.5}, "encoding": {"x2": {"field": "x2"}, "y2": {"field": "y2"}}},
  {"transform": [{"filter": "datum.s == 'ar'"}], "mark": {"type": "point", "shape": "triangle", "filled": true, "color": "black", "opacity": 1, "size": 40}, "encoding": {"x": {"field": "x2", "type": "quantitative"}, "y": {"field": "y2", "type": "quantitative"}, "angle": {"field": "a", "type": "quantitative", "scale": null}}},
  {"transform": [{"filter": "datum.s == 'tc'"}], "mark": {"type": "text", "align": "center"}, "encoding": {"text": {"field": "t"}}},
  {"transform": [{"filter": "datum.s == 'hd'"}], "mark": {"type": "text", "align": "right", "fontWeight": "bold", "fontSize": 12}, "encoding": {"text": {"field": "t"}}}
 ]
},
{
 "width": 278, "height": 188,
 "title": {"text": "(f)", "dx": -31},
 "data": {"values": [
  {"s":"r","x":166,"y":150},{"s":"r","x":165.85,"y":152},{"s":"r","x":165.7,"y":147},{"s":"r","x":165.55,"y":158},{"s":"r","x":165.4,"y":155},{"s":"r","x":165.25,"y":158},{"s":"r","x":165.1,"y":165},{"s":"r","x":165,"y":162},{"s":"r","x":164.9,"y":170},{"s":"r","x":164.8,"y":178},{"s":"r","x":164.7,"y":175},{"s":"r","x":164.6,"y":190},{"s":"r","x":164.5,"y":185},{"s":"r","x":164.4,"y":195},{"s":"r","x":164.3,"y":200},{"s":"r","x":164.2,"y":205},{"s":"r","x":164.1,"y":225},{"s":"r","x":164,"y":235},{"s":"r","x":163.9,"y":270},{"s":"r","x":163.8,"y":300},{"s":"r","x":163.7,"y":310},{"s":"r","x":163.6,"y":330},{"s":"r","x":163.5,"y":350},{"s":"r","x":163.4,"y":355},{"s":"r","x":163.3,"y":375},{"s":"r","x":163.25,"y":350},{"s":"r","x":163.15,"y":335},{"s":"r","x":163.05,"y":300},{"s":"r","x":162.95,"y":285},{"s":"r","x":162.85,"y":275},{"s":"r","x":162.75,"y":280},{"s":"r","x":162.65,"y":285},{"s":"r","x":162.55,"y":315},{"s":"r","x":162.45,"y":330},{"s":"r","x":162.35,"y":340},{"s":"r","x":162.25,"y":350},{"s":"r","x":162.15,"y":362},{"s":"r","x":162.05,"y":345},{"s":"r","x":161.95,"y":355},{"s":"r","x":161.85,"y":340},{"s":"r","x":161.7,"y":310},{"s":"r","x":161.55,"y":270},{"s":"r","x":161.4,"y":250},{"s":"r","x":161.3,"y":215},{"s":"r","x":161.2,"y":175},{"s":"r","x":161.1,"y":150},{"s":"r","x":160.95,"y":125},{"s":"r","x":160.8,"y":118},{"s":"r","x":160.7,"y":108},{"s":"r","x":160.55,"y":95},{"s":"r","x":160.45,"y":92},{"s":"r","x":160.35,"y":100},{"s":"r","x":160.2,"y":92},{"s":"r","x":160,"y":95},{"s":"r","x":159.85,"y":90},{"s":"r","x":159.7,"y":95},{"s":"r","x":159.5,"y":100},{"s":"r","x":159.35,"y":92},{"s":"r","x":159.2,"y":102},{"s":"r","x":159.05,"y":90},{"s":"r","x":158.9,"y":95},{"s":"r","x":158.7,"y":88},{"s":"r","x":158.5,"y":96},{"s":"r","x":158.3,"y":90},{"s":"r","x":158.15,"y":97},{"s":"r","x":158,"y":92},
  {"s":"f","x":166,"y":149},{"s":"f","x":165.25,"y":157},{"s":"f","x":164.77,"y":172},{"s":"f","x":164.49,"y":187},{"s":"f","x":164.2,"y":207},{"s":"f","x":164.01,"y":232},{"s":"f","x":163.82,"y":292},{"s":"f","x":163.62,"y":332},{"s":"f","x":163.48,"y":347},{"s":"f","x":163.34,"y":347},{"s":"f","x":163.15,"y":322},{"s":"f","x":162.95,"y":287},{"s":"f","x":162.81,"y":272},{"s":"f","x":162.62,"y":292},{"s":"f","x":162.38,"y":327},{"s":"f","x":162.19,"y":340},{"s":"f","x":162.09,"y":342},{"s":"f","x":161.9,"y":327},{"s":"f","x":161.66,"y":292},{"s":"f","x":161.42,"y":232},{"s":"f","x":161.18,"y":172},{"s":"f","x":160.94,"y":122},{"s":"f","x":160.66,"y":97},{"s":"f","x":160.27,"y":92},{"s":"f","x":159.51,"y":92},{"s":"f","x":158,"y":92},
  {"s":"b","x":166,"y":147},{"s":"b","x":164.77,"y":147},{"s":"b","x":163.82,"y":142},{"s":"b","x":162.9,"y":127},{"s":"b","x":161.9,"y":112},{"s":"b","x":160.9,"y":97},{"s":"b","x":160.4,"y":92},{"s":"b","x":158,"y":92},
  {"s":"p1","x":165.8,"y":150,"y2":147},{"s":"p1","x":165.3,"y":163,"y2":147},{"s":"p1","x":164.9,"y":185,"y2":147},{"s":"p1","x":164.5,"y":202,"y2":146},{"s":"p1","x":164.1,"y":195,"y2":145},{"s":"p1","x":163.8,"y":170,"y2":142},{"s":"p1","x":163.5,"y":148,"y2":139},{"s":"p1","x":163.3,"y":138,"y2":138},
  {"s":"p2","x":164.3,"y":150,"y2":145},{"s":"p2","x":164,"y":195,"y2":144},{"s":"p2","x":163.8,"y":260,"y2":142},{"s":"p2","x":163.6,"y":310,"y2":140},{"s":"p2","x":163.42,"y":324,"y2":138},{"s":"p2","x":163.2,"y":305,"y2":136},{"s":"p2","x":163,"y":250,"y2":131},{"s":"p2","x":162.8,"y":185,"y2":127},{"s":"p2","x":162.6,"y":140,"y2":124},{"s":"p2","x":162.4,"y":124,"y2":122},
  {"s":"p3","x":163.6,"y":140,"y2":140},{"s":"p3","x":163.3,"y":150,"y2":137},{"s":"p3","x":163,"y":180,"y2":131},{"s":"p3","x":162.8,"y":240,"y2":127},{"s":"p3","x":162.6,"y":292,"y2":124},{"s":"p3","x":162.38,"y":327,"y2":122},{"s":"p3","x":162.19,"y":340,"y2":119},{"s":"p3","x":162.09,"y":342,"y2":118},{"s":"p3","x":161.9,"y":327,"y2":112},{"s":"p3","x":161.66,"y":292,"y2":109},{"s":"p3","x":161.42,"y":232,"y2":106},{"s":"p3","x":161.18,"y":172,"y2":102},{"s":"p3","x":160.94,"y":122,"y2":97},{"s":"p3","x":160.66,"y":97,"y2":94},{"s":"p3","x":160.4,"y":92,"y2":92},
  {"s":"tc","x":164.76,"y":220,"t":"S-C"},{"s":"tr","x":163.19,"y":397,"t":"S 2p"},{"s":"sub","x":163.19,"y":397,"t":"1/2"},{"s":"tr","x":161.52,"y":390,"t":"S 2p"},{"s":"sub","x":161.52,"y":390,"t":"3/2"},{"s":"hd","x":158.26,"y":500,"t":"S 2p"}
 ]},
 "encoding": {
  "x": {"field": "x", "type": "quantitative", "scale": {"domain": [166, 158], "nice": false, "zero": false}, "axis": {"title": "Binding Energy (eV)", "values": [158,159,160,161,162,163,164,165,166], "labelExpr": "datum.value % 2 == 0 ? datum.label : ''", "tickSize": {"condition": {"test": "datum.value % 2 == 0", "value": -5}, "value": -3}}},
  "y": {"field": "y", "type": "quantitative", "scale": {"domain": [0, 567], "nice": false, "zero": false}, "axis": {"title": "Intensity (a.u.)"}}
 },
 "layer": [
  {"transform": [{"filter": "datum.s == 'p3'"}], "mark": {"type": "area", "color": "#3050f0"}, "encoding": {"y2": {"field": "y2"}}},
  {"transform": [{"filter": "datum.s == 'p1'"}], "mark": {"type": "area", "color": "#ff8c1a"}, "encoding": {"y2": {"field": "y2"}}},
  {"transform": [{"filter": "datum.s == 'p2'"}], "mark": {"type": "area", "color": "#ff22ee"}, "encoding": {"y2": {"field": "y2"}}},
  {"transform": [{"filter": "datum.s == 'b'"}], "mark": {"type": "line", "color": "black", "strokeWidth": 1}},
  {"transform": [{"filter": "datum.s == 'r'"}], "mark": {"type": "line", "color": "black", "strokeWidth": 1.2}},
  {"transform": [{"filter": "datum.s == 'f'"}], "mark": {"type": "line", "color": "#22aa22", "strokeWidth": 1.6}},
  {"transform": [{"filter": "datum.s == 'tr'"}], "mark": {"type": "text", "align": "right"}, "encoding": {"text": {"field": "t"}}},
  {"transform": [{"filter": "datum.s == 'tc'"}], "mark": {"type": "text", "align": "center"}, "encoding": {"text": {"field": "t"}}},
  {"transform": [{"filter": "datum.s == 'sub'"}], "mark": {"type": "text", "align": "left", "fontSize": 9, "dx": 0.5, "dy": 3}, "encoding": {"text": {"field": "t"}}},
  {"transform": [{"filter": "datum.s == 'hd'"}], "mark": {"type": "text", "align": "right", "fontWeight": "bold", "fontSize": 12}, "encoding": {"text": {"field": "t"}}}
 ]
}
]}
]
}
